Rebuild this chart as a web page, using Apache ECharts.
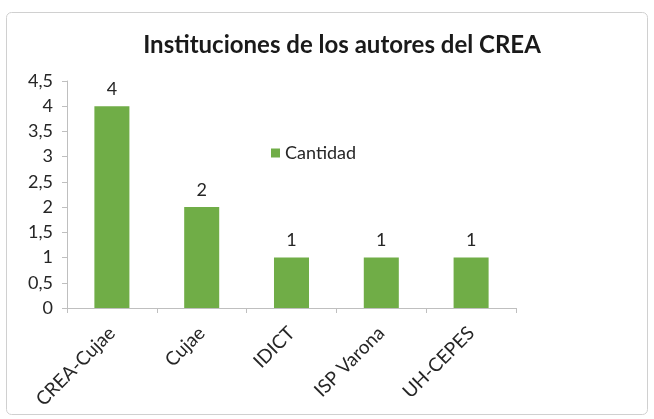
<!DOCTYPE html>
<html>
<head>
<meta charset="utf-8">
<script src="https://cdn.jsdelivr.net/npm/echarts@6/dist/echarts.min.js"></script>
<style>
  html, body { margin: 0; padding: 0; background: #fff; }
  #chart { width: 654px; height: 419px; }
</style>
</head>
<body>
<div id="chart"></div>
<script>
const categories = ["CREA-Cujae", "Cujae", "IDICT", "ISP Varona", "UH-CEPES"];
const cantidad = [4, 2, 1, 1, 1];

const chart = echarts.init(document.getElementById("chart"));

chart.setOption({
  textStyle: { fontFamily: "Lato" },
  graphic: [
    {
      type: "rect",
      shape: { x: 6.5, y: 12.5, width: 641, height: 402, r: 5 },
      style: { fill: "none", stroke: "#d0d0d0", lineWidth: 1 },
      silent: true
    }
  ],
  title: {
    text: "Instituciones de los autores del CREA",
    left: 337,
    textAlign: "center",
    top: 28,
    textStyle: { fontSize: 24, fontWeight: "bold", color: "#1a1a1a", fontFamily: "Lato" }
  },
  legend: {
    left: 266,
    top: 139,
    icon: "rect",
    itemWidth: 9,
    itemHeight: 9,
    itemGap: 7,
    textStyle: { fontSize: 18, color: "#262626" },
    data: ["Cantidad"]
  },
  grid: { left: 67, right: 138, top: 81, bottom: 111 },
  xAxis: {
    type: "category",
    data: categories,
    axisLine: { lineStyle: { color: "#bfbfbf" } },
    axisTick: { show: true, length: 5, lineStyle: { color: "#bfbfbf" } },
    axisLabel: { rotate: 45, fontSize: 19, color: "#262626", margin: 22 }
  },
  yAxis: {
    type: "value",
    min: 0,
    max: 4.5,
    interval: 0.5,
    splitLine: { show: false },
    axisLine: { show: true, lineStyle: { color: "#bfbfbf" } },
    axisTick: { show: true, length: 5, lineStyle: { color: "#bfbfbf" } },
    axisLabel: {
      fontSize: 18,
      color: "#262626",
      margin: 14,
      formatter: (v) => String(v).replace(".", ",")
    }
  },
  series: [
    {
      name: "Cantidad",
      type: "bar",
      data: cantidad,
      barWidth: "39%",
      itemStyle: { color: "#70ad47" },
      label: { show: true, position: "top", fontSize: 18, color: "#262626", distance: 8 }
    }
  ]
});
</script>
</body>
</html>
